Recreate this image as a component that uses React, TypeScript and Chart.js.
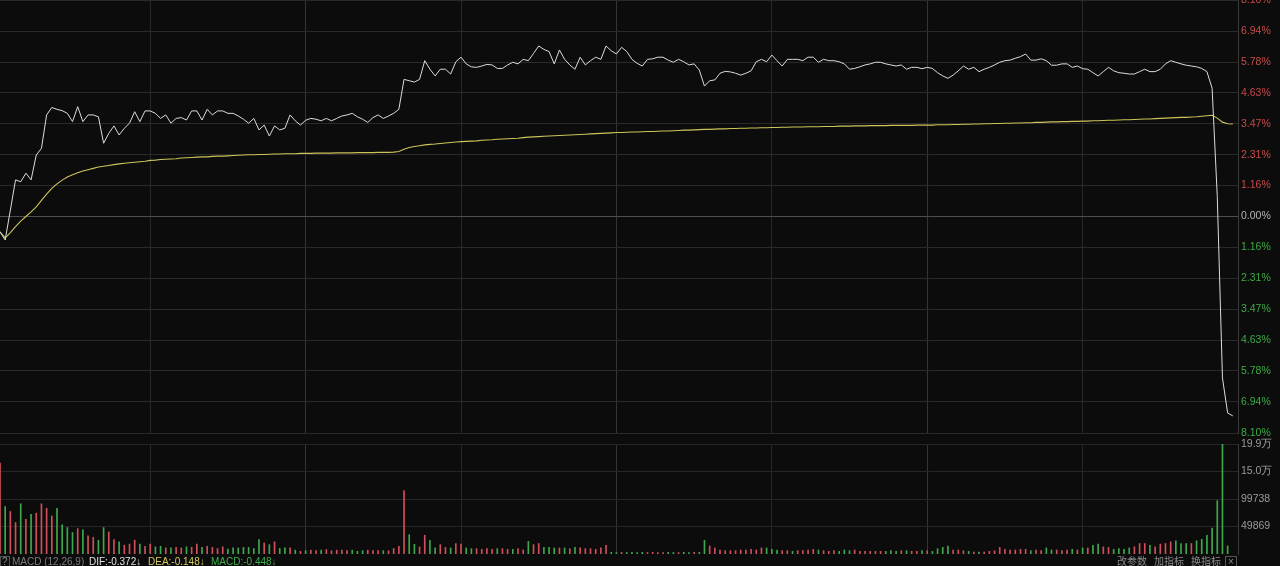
import { useEffect, useRef } from 'react';
import Chart from 'chart.js/auto';

// Minute slots: 09:31 … 11:30 and 13:01 … 15:00 (240 slots)
function buildMinutes(): string[] {
  const out: string[] = [];
  const push = (start: number, count: number) => {
    for (let i = 1; i <= count; i++) {
      const t = start + i;
      const h = Math.floor(t / 60);
      const m = t % 60;
      out.push(`${String(h).padStart(2, '0')}:${String(m).padStart(2, '0')}`);
    }
  };
  push(9 * 60 + 30, 120);
  push(13 * 60, 120);
  return out;
}

const minutes = buildMinutes();
const majorTimes = ['10:30', '11:30', '14:00'];
const minorTimes = ['10:00', '11:00', '13:30', '14:30'];

// change vs previous close, %
const pricePct = [
  -0.57, -0.88, 0.24, 1.37, 1.30, 1.62, 1.37, 2.30, 2.55, 3.80,
  4.08, 4.01, 3.96, 3.86, 3.55, 4.11, 3.55, 3.80, 3.80, 3.73,
  2.74, 3.11, 3.39, 3.05, 3.30, 3.49, 3.92, 3.55, 3.95, 3.95,
  3.86, 3.67, 3.80, 3.49, 3.67, 3.70, 3.61, 3.95, 3.95, 3.61,
  4.01, 3.80, 3.95, 3.95, 3.86, 3.86, 3.76, 3.64, 3.49, 3.67,
  3.24, 3.42, 3.01, 3.39, 3.24, 3.30, 3.80, 3.58, 3.42, 3.60,
  3.67, 3.64, 3.58, 3.67, 3.58, 3.67, 3.76, 3.80, 3.86, 3.73,
  3.64, 3.52, 3.70, 3.80, 3.67, 3.76, 3.86, 4.01, 5.13, 5.08,
  5.03, 5.13, 5.83, 5.51, 5.26, 5.51, 5.51, 5.33, 5.79, 5.96,
  5.71, 5.60, 5.58, 5.63, 5.69, 5.67, 5.54, 5.54, 5.67, 5.77,
  5.71, 5.88, 5.83, 6.10, 6.38, 6.25, 6.17, 5.71, 6.23, 5.88,
  5.67, 5.51, 5.96, 5.67, 5.83, 5.96, 5.88, 6.38, 6.20, 6.08,
  6.33, 6.17, 5.88, 5.73, 5.63, 5.88, 5.90, 5.96, 5.96, 5.85,
  5.77, 5.88, 5.79, 5.67, 5.71, 5.48, 4.88, 5.08, 5.11, 5.36,
  5.43, 5.41, 5.36, 5.29, 5.36, 5.45, 5.79, 5.88, 5.79, 6.04,
  5.83, 5.63, 5.88, 5.88, 5.88, 5.83, 5.96, 5.96, 5.77, 5.88,
  5.83, 5.83, 5.79, 5.71, 5.51, 5.54, 5.60, 5.67, 5.71, 5.77,
  5.77, 5.71, 5.67, 5.63, 5.67, 5.51, 5.58, 5.58, 5.53, 5.58,
  5.54, 5.38, 5.26, 5.17, 5.29, 5.45, 5.63, 5.51, 5.58, 5.42,
  5.51, 5.58, 5.67, 5.77, 5.83, 5.85, 5.92, 5.98, 6.08, 5.85,
  5.85, 5.90, 5.83, 5.66, 5.66, 5.71, 5.71, 5.58, 5.63, 5.53,
  5.51, 5.38, 5.26, 5.42, 5.58, 5.45, 5.38, 5.36, 5.33, 5.33,
  5.42, 5.51, 5.42, 5.42, 5.51, 5.71, 5.83, 5.77, 5.71, 5.66,
  5.63, 5.60, 5.54, 5.42, 4.80, 0.75, -6.04, -7.35, -7.46,
];

// average price line, %
const avgPct = [
  -0.57, -0.80, -0.60, -0.38, -0.17, 0.00, 0.17, 0.36, 0.60, 0.84,
  1.05, 1.22, 1.36, 1.48, 1.56, 1.64, 1.70, 1.75, 1.80, 1.85,
  1.88, 1.91, 1.94, 1.97, 1.99, 2.01, 2.03, 2.05, 2.07, 2.10,
  2.11, 2.13, 2.14, 2.15, 2.16, 2.19, 2.20, 2.21, 2.22, 2.23,
  2.23, 2.25, 2.26, 2.26, 2.27, 2.28, 2.29, 2.30, 2.31, 2.31,
  2.32, 2.32, 2.33, 2.34, 2.34, 2.35, 2.35, 2.35, 2.36, 2.36,
  2.36, 2.37, 2.37, 2.37, 2.37, 2.38, 2.38, 2.38, 2.38, 2.39,
  2.39, 2.39, 2.39, 2.40, 2.40, 2.40, 2.41, 2.43, 2.52, 2.58,
  2.62, 2.65, 2.68, 2.70, 2.71, 2.73, 2.75, 2.77, 2.79, 2.80,
  2.81, 2.82, 2.83, 2.85, 2.86, 2.87, 2.89, 2.90, 2.91, 2.92,
  2.93, 2.95, 2.97, 2.98, 2.99, 3.00, 3.01, 3.02, 3.03, 3.04,
  3.05, 3.06, 3.07, 3.08, 3.09, 3.10, 3.11, 3.12, 3.13, 3.14,
  3.14, 3.15, 3.16, 3.16, 3.17, 3.18, 3.18, 3.19, 3.20, 3.20,
  3.21, 3.22, 3.23, 3.23, 3.24, 3.25, 3.26, 3.26, 3.27, 3.28,
  3.28, 3.29, 3.29, 3.30, 3.30, 3.31, 3.31, 3.32, 3.32, 3.33,
  3.33, 3.34, 3.34, 3.35, 3.35, 3.35, 3.36, 3.36, 3.36, 3.37,
  3.37, 3.37, 3.38, 3.38, 3.38, 3.39, 3.39, 3.39, 3.40, 3.40,
  3.40, 3.40, 3.41, 3.41, 3.41, 3.41, 3.41, 3.42, 3.42, 3.42,
  3.42, 3.43, 3.43, 3.43, 3.44, 3.44, 3.45, 3.45, 3.46, 3.46,
  3.47, 3.47, 3.48, 3.48, 3.49, 3.49, 3.50, 3.50, 3.51, 3.51,
  3.52, 3.52, 3.53, 3.54, 3.54, 3.55, 3.55, 3.56, 3.56, 3.57,
  3.57, 3.58, 3.58, 3.59, 3.60, 3.60, 3.61, 3.62, 3.62, 3.63,
  3.64, 3.65, 3.65, 3.66, 3.67, 3.68, 3.69, 3.70, 3.71, 3.71,
  3.72, 3.73, 3.75, 3.77, 3.79, 3.68, 3.53, 3.47, 3.46,
];

// minute volume (shares)
const volume = [
  165000, 86000, 77000, 57000, 91000, 63000, 72000, 74000, 91000, 83000,
  69000, 83000, 53000, 48000, 39000, 46000, 44000, 33000, 30000, 25000,
  48000, 40000, 26000, 22000, 16000, 18000, 25000, 18000, 14000, 18000,
  13000, 14000, 11000, 11000, 12000, 11000, 13000, 12000, 18000, 12000,
  14000, 12000, 10000, 13000, 9000, 11000, 11000, 12000, 12000, 10000,
  26000, 20000, 17000, 22000, 10000, 11000, 11000, 7000, 5000, 6000,
  7000, 6000, 7000, 8000, 6000, 7000, 7000, 6000, 7000, 5000,
  6000, 7000, 6000, 6000, 6000, 6000, 10000, 14000, 115000, 35000,
  17500, 12700, 34000, 25000, 11000, 17000, 12000, 11000, 19000, 18000,
  11000, 9700, 9700, 8500, 9700, 8500, 9700, 9700, 8500, 8500,
  9700, 7300, 23000, 17000, 19000, 12000, 12000, 11000, 11000, 11000,
  9700, 12000, 11000, 9700, 9700, 8500, 11000, 15700, 3000, 2500,
  3200, 2800, 3000, 2600, 3100, 2700, 3000, 2800, 2600, 3200,
  2900, 2700, 3000, 2800, 3100, 2900, 25000, 14500, 11000, 7300,
  6000, 6000, 6000, 7300, 7300, 8500, 7300, 11000, 11000, 8500,
  7300, 6000, 6000, 4800, 6000, 6000, 7300, 8500, 7300, 6000,
  4800, 6000, 4800, 7300, 6000, 7300, 4800, 4800, 4800, 4800,
  4800, 4800, 6000, 4800, 6000, 6000, 4800, 4800, 6000, 6000,
  4800, 9700, 12000, 14500, 7300, 7300, 6000, 4800, 3600, 3600,
  3600, 4800, 6000, 12000, 8500, 7300, 7300, 8500, 8500, 6000,
  7300, 6000, 11000, 7300, 7300, 6000, 7300, 8500, 7300, 11000,
  11000, 15700, 18000, 13000, 12000, 8500, 9700, 8500, 11000, 13000,
  19000, 19000, 15700, 13000, 18000, 19000, 22000, 24000, 19000, 19000,
  19000, 24000, 26600, 34000, 47000, 96700, 199000, 14500,
];

// r = up minute, g = down minute
const volumeSide = (
  'rgrrgrgrrr' + 'rggggrgrrg' + 'grrgrrrgrr' + 'ggrgrrgrrg' + 'rrrrgggggg' +
  'grgrggrgrg' + 'rrgrrrrrgg' + 'grrrgrrrrg' + 'grrggrrgrr' + 'ggrrrrgrrg' +
  'rrgrrgggrg' + 'rgrrrrrrgg' + 'rggggrrrrg' + 'grggrggrrr' + 'rrrrrrrrgg' +
  'grrgrrrrgr' + 'rrgggrrrrr' + 'rgggrgrrgr' + 'ggggrrrgrg' + 'rrrrrrrrrg' +
  'rrggrrrgrg' + 'rggrrggggr' + 'rrgrrrrggg' + 'rggggggg'
).split('');

const pctTicks = [-8.10, -6.94, -5.78, -4.63, -3.47, -2.31, -1.16, 0, 1.16, 2.31, 3.47, 4.63, 5.78, 6.94, 8.10];
const volTicks = [49869, 99738, 149607, 199476];

const BG = '#0c0c0c';
const UP = '#cf4f5a';
const DOWN = '#3fa84c';
const AXIS_W = 42;
const FONT = '"Liberation Sans", Arial, sans-serif';

const xGridColor = (ctx: any) => {
  const lbl = minutes[ctx.index];
  if (majorTimes.includes(lbl)) return '#353535';
  if (minorTimes.includes(lbl)) return '#282828';
  return 'rgba(0,0,0,0)';
};

const xScale = {
  type: 'category' as const,
  offset: false,
  border: { display: false },
  grid: { color: xGridColor, drawTicks: false, offset: false, lineWidth: 1 },
  ticks: { display: false, autoSkip: false },
  afterFit: (s: any) => { s.height = 0; s.paddingLeft = 0; s.paddingRight = 0; },
};

function PriceChart() {
  const ref = useRef<HTMLCanvasElement>(null);
  useEffect(() => {
    if (!ref.current) return;
    const chart = new Chart(ref.current, {
      type: 'line',
      data: {
        labels: minutes,
        datasets: [
          { data: pricePct, borderColor: '#dcdcdc', borderWidth: 1, pointRadius: 0, tension: 0 },
          { data: avgPct, borderColor: '#cdc45a', borderWidth: 1.1, pointRadius: 0, tension: 0 },
        ],
      },
      options: {
        animation: false,
        responsive: false,
        layout: { padding: { top: 0, left: 0, right: 0, bottom: 12 } },
        plugins: { legend: { display: false }, tooltip: { enabled: false } },
        scales: {
          x: xScale,
          y: {
            position: 'right',
            min: -8.1,
            max: 8.1,
            afterBuildTicks: (s: any) => { s.ticks = pctTicks.map(v => ({ value: v })); },
            afterFit: (s: any) => { s.width = AXIS_W; s.paddingTop = 0; s.paddingBottom = 0; },
            border: { display: true, color: '#3a3a3a' },
            grid: {
              drawTicks: false,
              color: (ctx: any) => (ctx.tick && ctx.tick.value === 0 ? '#4e4e4e' : '#2a2a2a'),
            },
            ticks: {
              padding: 3,
              font: { family: FONT, size: 10.5 },
              color: (ctx: any) => {
                const v = ctx.tick.value;
                return v > 0 ? '#c84a4a' : v < 0 ? '#3cab45' : '#b4b4b4';
              },
              callback: (v: any) => `${Math.abs(Number(v)).toFixed(2)}%`,
            },
          },
        },
      },
    });
    return () => chart.destroy();
  }, []);
  return <canvas ref={ref} width={1280} height={445} style={{ position: 'absolute', left: 0, top: 0 }} />;
}

function VolumeChart() {
  const ref = useRef<HTMLCanvasElement>(null);
  useEffect(() => {
    if (!ref.current) return;
    const chart = new Chart(ref.current, {
      type: 'bar',
      data: {
        labels: minutes,
        datasets: [
          {
            data: volume,
            backgroundColor: volumeSide.map(s => (s === 'r' ? UP : DOWN)),
            barThickness: 1,
          },
        ],
      },
      options: {
        animation: false,
        responsive: false,
        layout: { padding: { top: 11, left: 0, right: 0, bottom: 12 } },
        plugins: { legend: { display: false }, tooltip: { enabled: false } },
        scales: {
          x: xScale,
          y: {
            position: 'right',
            min: 0,
            max: 199476,
            afterBuildTicks: (s: any) => { s.ticks = volTicks.map(v => ({ value: v })); },
            afterFit: (s: any) => { s.width = AXIS_W; s.paddingTop = 0; s.paddingBottom = 0; },
            border: { display: true, color: '#3a3a3a' },
            grid: { drawTicks: false, color: '#262626' },
            ticks: {
              padding: 3,
              font: { family: FONT, size: 10.5 },
              color: '#9a9a9a',
              callback: (v: any) => {
                const n = Number(v);
                return n >= 100000 ? `${(n / 10000).toFixed(1)}万` : String(n);
              },
            },
          },
        },
      },
    });
    return () => chart.destroy();
  }, []);
  return <canvas ref={ref} width={1280} height={133} style={{ position: 'absolute', left: 0, top: 433 }} />;
}

export default function App() {
  const txt = { position: 'absolute' as const, top: 556, fontSize: 10, lineHeight: '11px', whiteSpace: 'nowrap' as const };
  return (
    <div
      style={{
        position: 'fixed',
        left: 0,
        top: 0,
        width: 1280,
        height: 566,
        overflow: 'hidden',
        background: BG,
        fontFamily: `${FONT}, "Noto Sans CJK SC"`,
      }}
    >
      <PriceChart />
      <VolumeChart />
      <span style={{ ...txt, left: 0, color: '#8a8a8a', border: '1px solid #555', padding: '0 1px', lineHeight: '10px' }}>?</span>
      <span style={{ ...txt, left: 12, color: '#7c7c7c' }}>MACD (12,26,9)</span>
      <span style={{ ...txt, left: 89, color: '#e0e0e0' }}>DIF:-0.372↓</span>
      <span style={{ ...txt, left: 148, color: '#d4c95a' }}>DEA:-0.148↓</span>
      <span style={{ ...txt, left: 211, color: '#3fae4c' }}>MACD:-0.448↓</span>
      <span style={{ ...txt, left: 1117, color: '#8c8c8c' }}>改参数</span>
      <span style={{ ...txt, left: 1154, color: '#8c8c8c' }}>加指标</span>
      <span style={{ ...txt, left: 1191, color: '#8c8c8c' }}>换指标</span>
      <span style={{ ...txt, left: 1225, color: '#8c8c8c', border: '1px solid #555', padding: '0 2px', lineHeight: '9px' }}>×</span>
    </div>
  );
}
